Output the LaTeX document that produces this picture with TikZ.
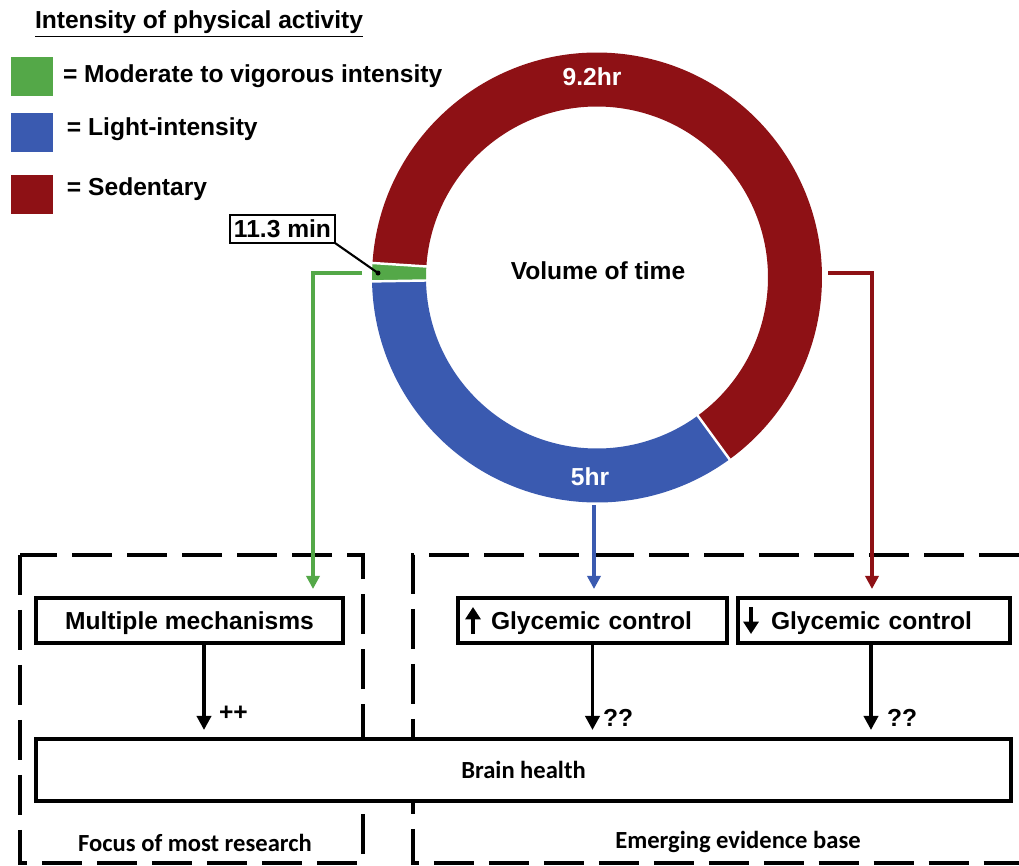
\documentclass[tikz,border=0pt]{standalone}
\usepackage{fontspec}
\setmainfont{Liberation Sans}
\newfontfamily\calfont{Carlito}
\usetikzlibrary{arrows.meta}

\definecolor{mvpa}{RGB}{84,168,72}
\definecolor{light}{RGB}{58,90,176}
\definecolor{sed}{RGB}{142,17,21}

% one piece of the ring: colour, start angle, end angle
\newcommand{\ringseg}[3]{%
  \fill[#1] (#2:171) arc[start angle=#2,end angle=#3,radius=171] -- (#3:225)
    arc[start angle=#3,end angle=#2,radius=225] -- cycle;}

\begin{document}
\begin{tikzpicture}[x=0.02cm,y=-0.02cm,inner sep=0pt,outer sep=0pt,
txt/.style={font=\fontsize{14}{16}\selectfont\bfseries},
caltxt/.style={font=\fontsize{14}{16}\selectfont\calfont\bfseries},
legbox/.style={rectangle,minimum width=0.84cm,minimum height=0.78cm},
flowbox/.style={draw,rectangle,line width=2.5pt,minimum height=0.9cm,text depth=0pt,txt},
glybox/.style={flowbox,text width=5.3cm,inner xsep=0pt,align=left},
glyarrow/.style={line width=2.3pt,-{Triangle[width=8.5pt,length=7pt]}},
link/.style={line width=2pt,-{Triangle[width=7.5pt,length=7.5pt]},shorten >=0.18cm},
effect/.style={line width=2.2pt,-{Triangle[width=8pt,length=8pt]},shorten >=0.18cm},
zone/.style={line width=2.3pt,dash pattern=on 0.8cm off 0.3cm}]

\useasboundingbox (0,0) rectangle (1019,866);

% legend
\draw (35,24) node[anchor=west,txt] (title) {\underline{Intensity of physical activity}};
\draw (32,76.5) node[legbox,fill=mvpa] (mvpasq) {};
\draw (32,132.5) node[legbox,fill=light] (lightsq) {};
\draw (32,194) node[legbox,fill=sed] (sedsq) {};
\draw (63,76) node[anchor=west,txt] (mvpatxt) {= Moderate to vigorous intensity};
\draw (67,129) node[anchor=west,txt] (lighttxt) {= Light-intensity};
\draw (67,189) node[anchor=west,txt] (sedtxt) {= Sedentary};

% ring
\begin{scope}[shift={(597,277.5)},yscale=-1]
\ringseg{mvpa}{176.3}{181.0}
\ringseg{light}{181.0}{306.1}
\ringseg{sed}{306.1}{536.3}
\foreach \a in {176.3,181.0,306.1}
  \draw[white,line width=1.4pt] (\a:168) -- (\a:228);
\end{scope}

\draw (592,77) node[txt,text=white] (sedlbl) {9.2hr};
\draw (590,477) node[txt,text=white] (lightlbl) {5hr};
\draw (598,271) node[txt] (vol) {Volume of time};

\draw (282.5,229) node[draw,line width=1.3pt,minimum width=2.1cm,minimum height=0.56cm,txt] (mvpalbl) {11.3 min};
\coordinate (dot) at (378,273);
\fill (dot) circle[radius=2.5];
\draw[line width=1.2pt] (mvpalbl.south east) -- (dot);

% dashed zones
\draw[zone] (20,555) rectangle (363,863);
\draw[zone] (1019,555) -- (413,555) -- (413,863) -- (1019,863);

% boxes
\draw (189.5,620.5) node[flowbox,minimum width=6.14cm] (mech) {Multiple mechanisms};
\draw (592.5,620.5) node[glybox,text width=5.38cm] (up) {\hspace*{0.66cm}Glycemic control};
\draw (874,620.5) node[glybox,text width=5.44cm] (down) {\hspace*{0.66cm}Glycemic control};
\draw (523.5,770) node[flowbox,fill=white,minimum width=19.5cm,minimum height=1.24cm,caltxt] (brain) {Brain health};
\draw[glyarrow] ([shift={(0.3cm,-0.27cm)}]up.west) -- ([shift={(0.3cm,0.27cm)}]up.west);
\draw[glyarrow] ([shift={(0.26cm,0.27cm)}]down.west) -- ([shift={(0.26cm,-0.27cm)}]down.west);

% links from the ring
\coordinate (gstart) at (362,273);
\coordinate (gturn) at (313,273);
\coordinate (bstart) at (594,505);
\coordinate (rstart) at (828,273);
\coordinate (rturn) at (872,273);
\draw[link,mvpa] (gstart) -- (gturn) -- (gturn |- mech.north);
\draw[link,light] (bstart) -- (bstart |- up.north);
\draw[link,sed] (rstart) -- (rturn) -- (rturn |- down.north);

% effects on the brain
\draw[effect] ([xshift=0.29cm]mech.south) -- ([xshift=0.29cm]mech.south |- brain.north);
\draw[effect] (up.south) -- (up.south |- brain.north);
\draw[effect] ([xshift=-0.06cm]down.south) -- ([xshift=-0.06cm]down.south |- brain.north);
\draw (219,713) node[anchor=west,txt] (plus) {++};
\draw (603,718) node[anchor=west,txt] (qup) {??};
\draw (887,718) node[anchor=west,txt] (qdown) {??};

\draw (195,843) node[caltxt] (focus) {Focus of most research};
\draw (738,842) node[caltxt] (emerg) {Emerging evidence base};
\end{tikzpicture}
\end{document}
